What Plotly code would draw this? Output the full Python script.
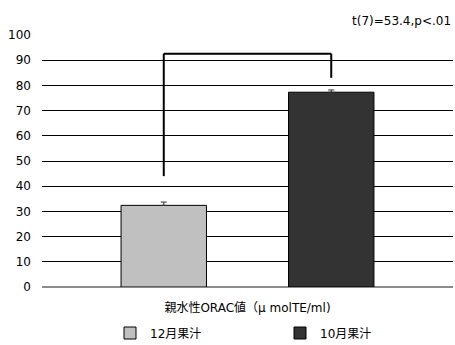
import plotly.graph_objects as go

category = ["親水性ORAC値（μ molTE/ml)"]
series_names = ["12月果汁", "10月果汁"]
means = [32.4, 77.3]
errors = [1.3, 0.9]
colors = ["#c0c0c0", "#333333"]
bracket_top = 92.6
bracket_left_end = 44.0
bracket_right_end = 83.0
stat_text = "t(7)=53.4,p<.01"

BARGAP = 0.185
BARGROUPGAP = 0.49
FONT = "DejaVu Sans, Noto Sans CJK JP, sans-serif"
legend_ids = ["legend", "legend2"]
legend_left_px = [110, 280]

fig = go.Figure()
for name, m, e, c, lg in zip(series_names, means, errors, colors, legend_ids):
    fig.add_trace(go.Bar(
        x=category, y=[m], name=name, legend=lg,
        marker=dict(color=c, line=dict(color="#000000", width=1)),
        error_y=dict(type="data", array=[e], arrayminus=[0], symmetric=False,
                     visible=True, color="#333333", thickness=1, width=3),
    ))

# centres of the two grouped bars on the category axis
slot = (1 - BARGAP) / len(series_names)
centres = [-(1 - BARGAP) / 2 + slot * (i + 0.5) for i in range(len(series_names))]

line_style = dict(color="#000000", width=2)
fig.add_shape(type="line", xref="x", yref="y", x0=centres[0], x1=centres[0],
              y0=bracket_left_end, y1=bracket_top, line=line_style)
fig.add_shape(type="line", xref="x", yref="y", x0=centres[0], x1=centres[1],
              y0=bracket_top, y1=bracket_top, line=line_style)
fig.add_shape(type="line", xref="x", yref="y", x0=centres[1], x1=centres[1],
              y0=bracket_top, y1=bracket_right_end, line=line_style)

fig.add_annotation(text=stat_text, xref="paper", yref="paper", x=1.0, y=1.0,
                   xanchor="right", yanchor="bottom", yshift=5, showarrow=False,
                   font=dict(size=12, color="#000000", family=FONT))

W, H = 455, 345
legend_style = dict(orientation="h", xref="container", yref="container",
                    xanchor="left", y=1 - 333 / H, yanchor="middle",
                    font=dict(size=12), itemwidth=30,
                    bgcolor="rgba(0,0,0,0)")
fig.update_layout(
    width=W, height=H,
    margin=dict(l=42, r=2, t=35, b=58, autoexpand=False),
    paper_bgcolor="white", plot_bgcolor="white",
    barmode="group", bargap=BARGAP, bargroupgap=BARGROUPGAP,
    font=dict(family=FONT, size=12, color="#000000"),
    showlegend=True,
    legend=dict(x=legend_left_px[0] / W, **legend_style),
    legend2=dict(x=legend_left_px[1] / W, **legend_style),
)
fig.update_yaxes(range=[0, 100], dtick=10, showgrid=True, gridcolor="#000000",
                 gridwidth=1, zeroline=True, zerolinecolor="#8c8c8c",
                 zerolinewidth=2, showline=False, ticks="",
                 ticklabelstandoff=10, tickfont=dict(size=12))
fig.update_xaxes(showgrid=False, showline=False, ticks="", tickfont=dict(size=12),
                 ticklabelstandoff=12)

fig.write_html("out.html")
